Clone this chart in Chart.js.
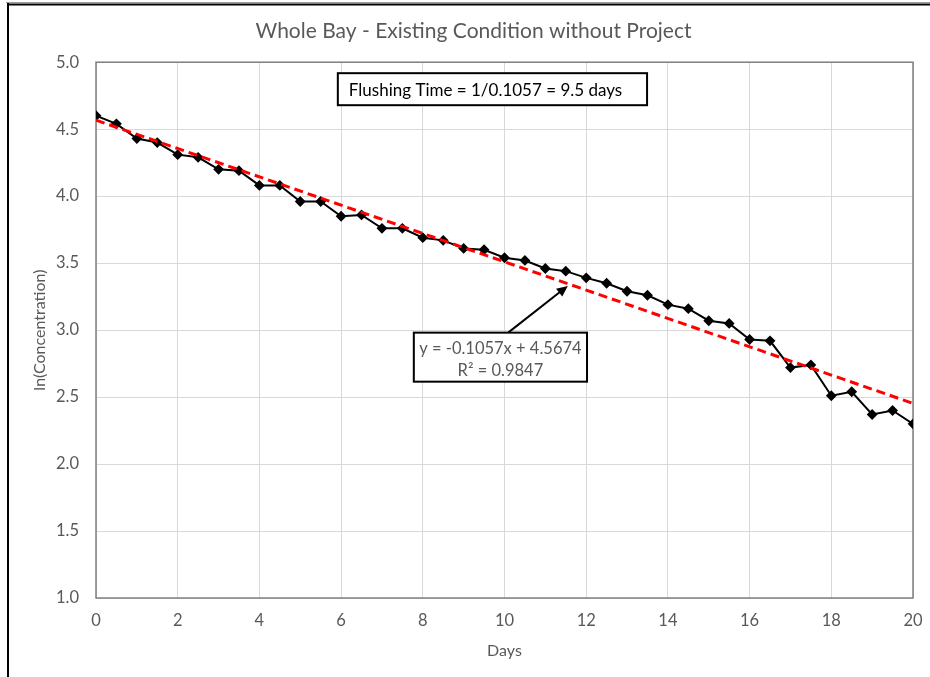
<!DOCTYPE html>
<html>
<head>
<meta charset="utf-8">
<script src="https://cdn.jsdelivr.net/npm/chart.js@4/dist/chart.umd.min.js"></script>
<style>
    html, body { margin: 0; padding: 0; background: #fff; }
    #wrap { width: 930px; height: 677px; position: relative; }
</style>
</head>
<body>
<div id="wrap"><canvas id="bayChart" width="930" height="677"></canvas></div>
<script>
// measured ln(concentration) every half day
const days = [0, 0.5, 1, 1.5, 2, 2.5, 3, 3.5, 4, 4.5, 5, 5.5, 6, 6.5, 7, 7.5, 8, 8.5, 9, 9.5,
    10, 10.5, 11, 11.5, 12, 12.5, 13, 13.5, 14, 14.5, 15, 15.5, 16, 16.5, 17, 17.5, 18, 18.5, 19, 19.5, 20];
const lnConc = [4.60, 4.54, 4.43, 4.40, 4.31, 4.29, 4.20, 4.19, 4.08, 4.08, 3.96, 3.96, 3.85, 3.86,
    3.76, 3.76, 3.69, 3.67, 3.61, 3.60, 3.54, 3.52, 3.46, 3.44, 3.39, 3.35, 3.29, 3.26, 3.19, 3.16,
    3.07, 3.05, 2.93, 2.92, 2.72, 2.74, 2.51, 2.54, 2.37, 2.40, 2.30];

// linear trendline end points
const trendDays = [0, 20];
const trendValues = [4.567, 2.453];

const xTicks = [0, 2, 4, 6, 8, 10, 12, 14, 16, 18, 20];
const yTicks = [1.0, 1.5, 2.0, 2.5, 3.0, 3.5, 4.0, 4.5, 5.0];

const flushLabel = "Flushing Time = 1/0.1057 = 9.5 days";
const eqLabels = ["y = -0.1057x + 4.5674", "R\u00b2 = 0.9847"];

const FONT = "Lato, 'Open Sans', sans-serif";
const GREY_TEXT = "#595959";

function toPoints(xs, ys) {
    let arr = [];
    for (let i = 0; i < xs.length; i++) {
        arr.push({ x: xs[i], y: ys[i] });
    }
    return arr;
}

// frame, plot border and the two text boxes with the arrow
const decorations = {
    id: "decorations",
    beforeDraw(chart) {
        const c = chart.ctx;
        c.save();
        c.fillStyle = "#fff";
        c.fillRect(0, 0, chart.width, chart.height);
        c.strokeStyle = "#9a9a9a";
        c.lineWidth = 1;
        c.beginPath();
        c.moveTo(6, 2.5);
        c.lineTo(930, 2.5);
        c.stroke();
        c.strokeStyle = "#000";
        c.lineWidth = 2;
        c.beginPath();
        c.moveTo(8, 3);
        c.lineTo(8, 677);
        c.moveTo(7, 4.5);
        c.lineTo(930, 4.5);
        c.stroke();
        c.restore();
    },
    beforeDatasetsDraw(chart) {
        const a = chart.chartArea;
        const c = chart.ctx;
        c.save();
        c.strokeStyle = "#7f7f7f";
        c.lineWidth = 1.5;
        c.strokeRect(a.left, a.top, a.right - a.left, a.bottom - a.top);
        c.restore();
    },
    afterDraw(chart) {
        const xs = chart.scales.x;
        const ys = chart.scales.y;
        const c = chart.ctx;
        c.save();

        // flushing time box
        let l = xs.getPixelForValue(5.92), r = xs.getPixelForValue(13.49);
        let t = ys.getPixelForValue(4.918), b = ys.getPixelForValue(4.679);
        c.fillStyle = "#fff";
        c.fillRect(l, t, r - l, b - t);
        c.strokeStyle = "#000";
        c.lineWidth = 2;
        c.strokeRect(l, t, r - l, b - t);
        c.fillStyle = "#000";
        c.font = "17px " + FONT;
        c.textBaseline = "middle";
        c.textAlign = "left";
        c.fillText(flushLabel, l + 11, (t + b) / 2 + 1);

        // arrow from equation box to trendline
        let x1 = xs.getPixelForValue(10.09), y1 = ys.getPixelForValue(2.981);
        let x2 = xs.getPixelForValue(11.55), y2 = ys.getPixelForValue(3.33);
        let ang = Math.atan2(y2 - y1, x2 - x1);
        c.strokeStyle = "#000";
        c.lineWidth = 2;
        c.beginPath();
        c.moveTo(x1, y1);
        c.lineTo(x2 - 8 * Math.cos(ang), y2 - 8 * Math.sin(ang));
        c.stroke();
        c.fillStyle = "#000";
        c.beginPath();
        c.moveTo(x2, y2);
        c.lineTo(x2 - 11 * Math.cos(ang) + 5 * Math.sin(ang), y2 - 11 * Math.sin(ang) - 5 * Math.cos(ang));
        c.lineTo(x2 - 11 * Math.cos(ang) - 5 * Math.sin(ang), y2 - 11 * Math.sin(ang) + 5 * Math.cos(ang));
        c.closePath();
        c.fill();

        // equation box
        l = xs.getPixelForValue(7.78); r = xs.getPixelForValue(12.02);
        t = ys.getPixelForValue(2.981); b = ys.getPixelForValue(2.615);
        c.fillStyle = "#fff";
        c.fillRect(l, t, r - l, b - t);
        c.strokeStyle = "#000";
        c.lineWidth = 2;
        c.strokeRect(l, t, r - l, b - t);
        c.fillStyle = GREY_TEXT;
        c.font = "16.5px " + FONT;
        c.textAlign = "center";
        c.fillText(eqLabels[0], (l + r) / 2, t + 16);
        c.fillText(eqLabels[1], (l + r) / 2, t + 38);
        c.restore();
    }
};

const ctx = document.querySelector("#bayChart");
const data = {
    datasets: [
        {
            label: "ln(Concentration)",
            data: toPoints(days, lnConc),
            borderColor: "#000",
            backgroundColor: "#000",
            borderWidth: 2,
            pointStyle: "rectRot",
            pointRadius: 4,
            pointHoverRadius: 4,
            tension: 0,
            order: 2
        },
        {
            label: "Linear trend",
            data: toPoints(trendDays, trendValues),
            borderColor: "#ff0000",
            borderWidth: 3,
            borderDash: [9, 5],
            pointRadius: 0,
            order: 1
        }
    ]
};

const config = {
    type: "scatter",
    data: data,
    options: {
        responsive: false,
        animation: false,
        showLine: true,
        layout: { padding: { left: 17, right: 0, top: 0, bottom: 0 } },
        plugins: {
            legend: { display: false },
            tooltip: { enabled: false },
            title: {
                display: true,
                text: "Whole Bay - Existing Condition without Project",
                color: GREY_TEXT,
                font: { family: FONT, size: 21, weight: "normal" },
                padding: { top: 19, bottom: 18 }
            }
        },
        scales: {
            x: {
                type: "linear",
                min: 0,
                max: 20,
                afterBuildTicks: (scale) => { scale.ticks = xTicks.map(v => ({ value: v })); },
                afterFit: (scale) => {
                    scale.height = 79;
                    scale.paddingLeft = 0;
                    scale.paddingRight = 17;
                },
                ticks: { color: GREY_TEXT, font: { family: FONT, size: 16.5 }, padding: 13 },
                grid: { color: "#d9d9d9", drawTicks: false },
                border: { display: false },
                title: {
                    display: true,
                    text: "Days",
                    color: GREY_TEXT,
                    font: { family: FONT, size: 16 },
                    padding: { top: 4, bottom: 17 }
                }
            },
            y: {
                min: 1,
                max: 5,
                afterBuildTicks: (scale) => { scale.ticks = yTicks.map(v => ({ value: v })); },
                afterFit: (scale) => { scale.width = 79; },
                ticks: {
                    color: GREY_TEXT,
                    font: { family: FONT, size: 16.5 },
                    padding: 17,
                    callback: (v) => Number(v).toFixed(1)
                },
                grid: { color: "#d9d9d9", drawTicks: false },
                border: { display: false },
                title: {
                    display: true,
                    text: "ln(Concentration)",
                    color: GREY_TEXT,
                    font: { family: FONT, size: 16 },
                    padding: { top: 13, bottom: 0 }
                }
            }
        }
    },
    plugins: [decorations]
};

new Chart(ctx, config);
</script>
</body>
</html>
